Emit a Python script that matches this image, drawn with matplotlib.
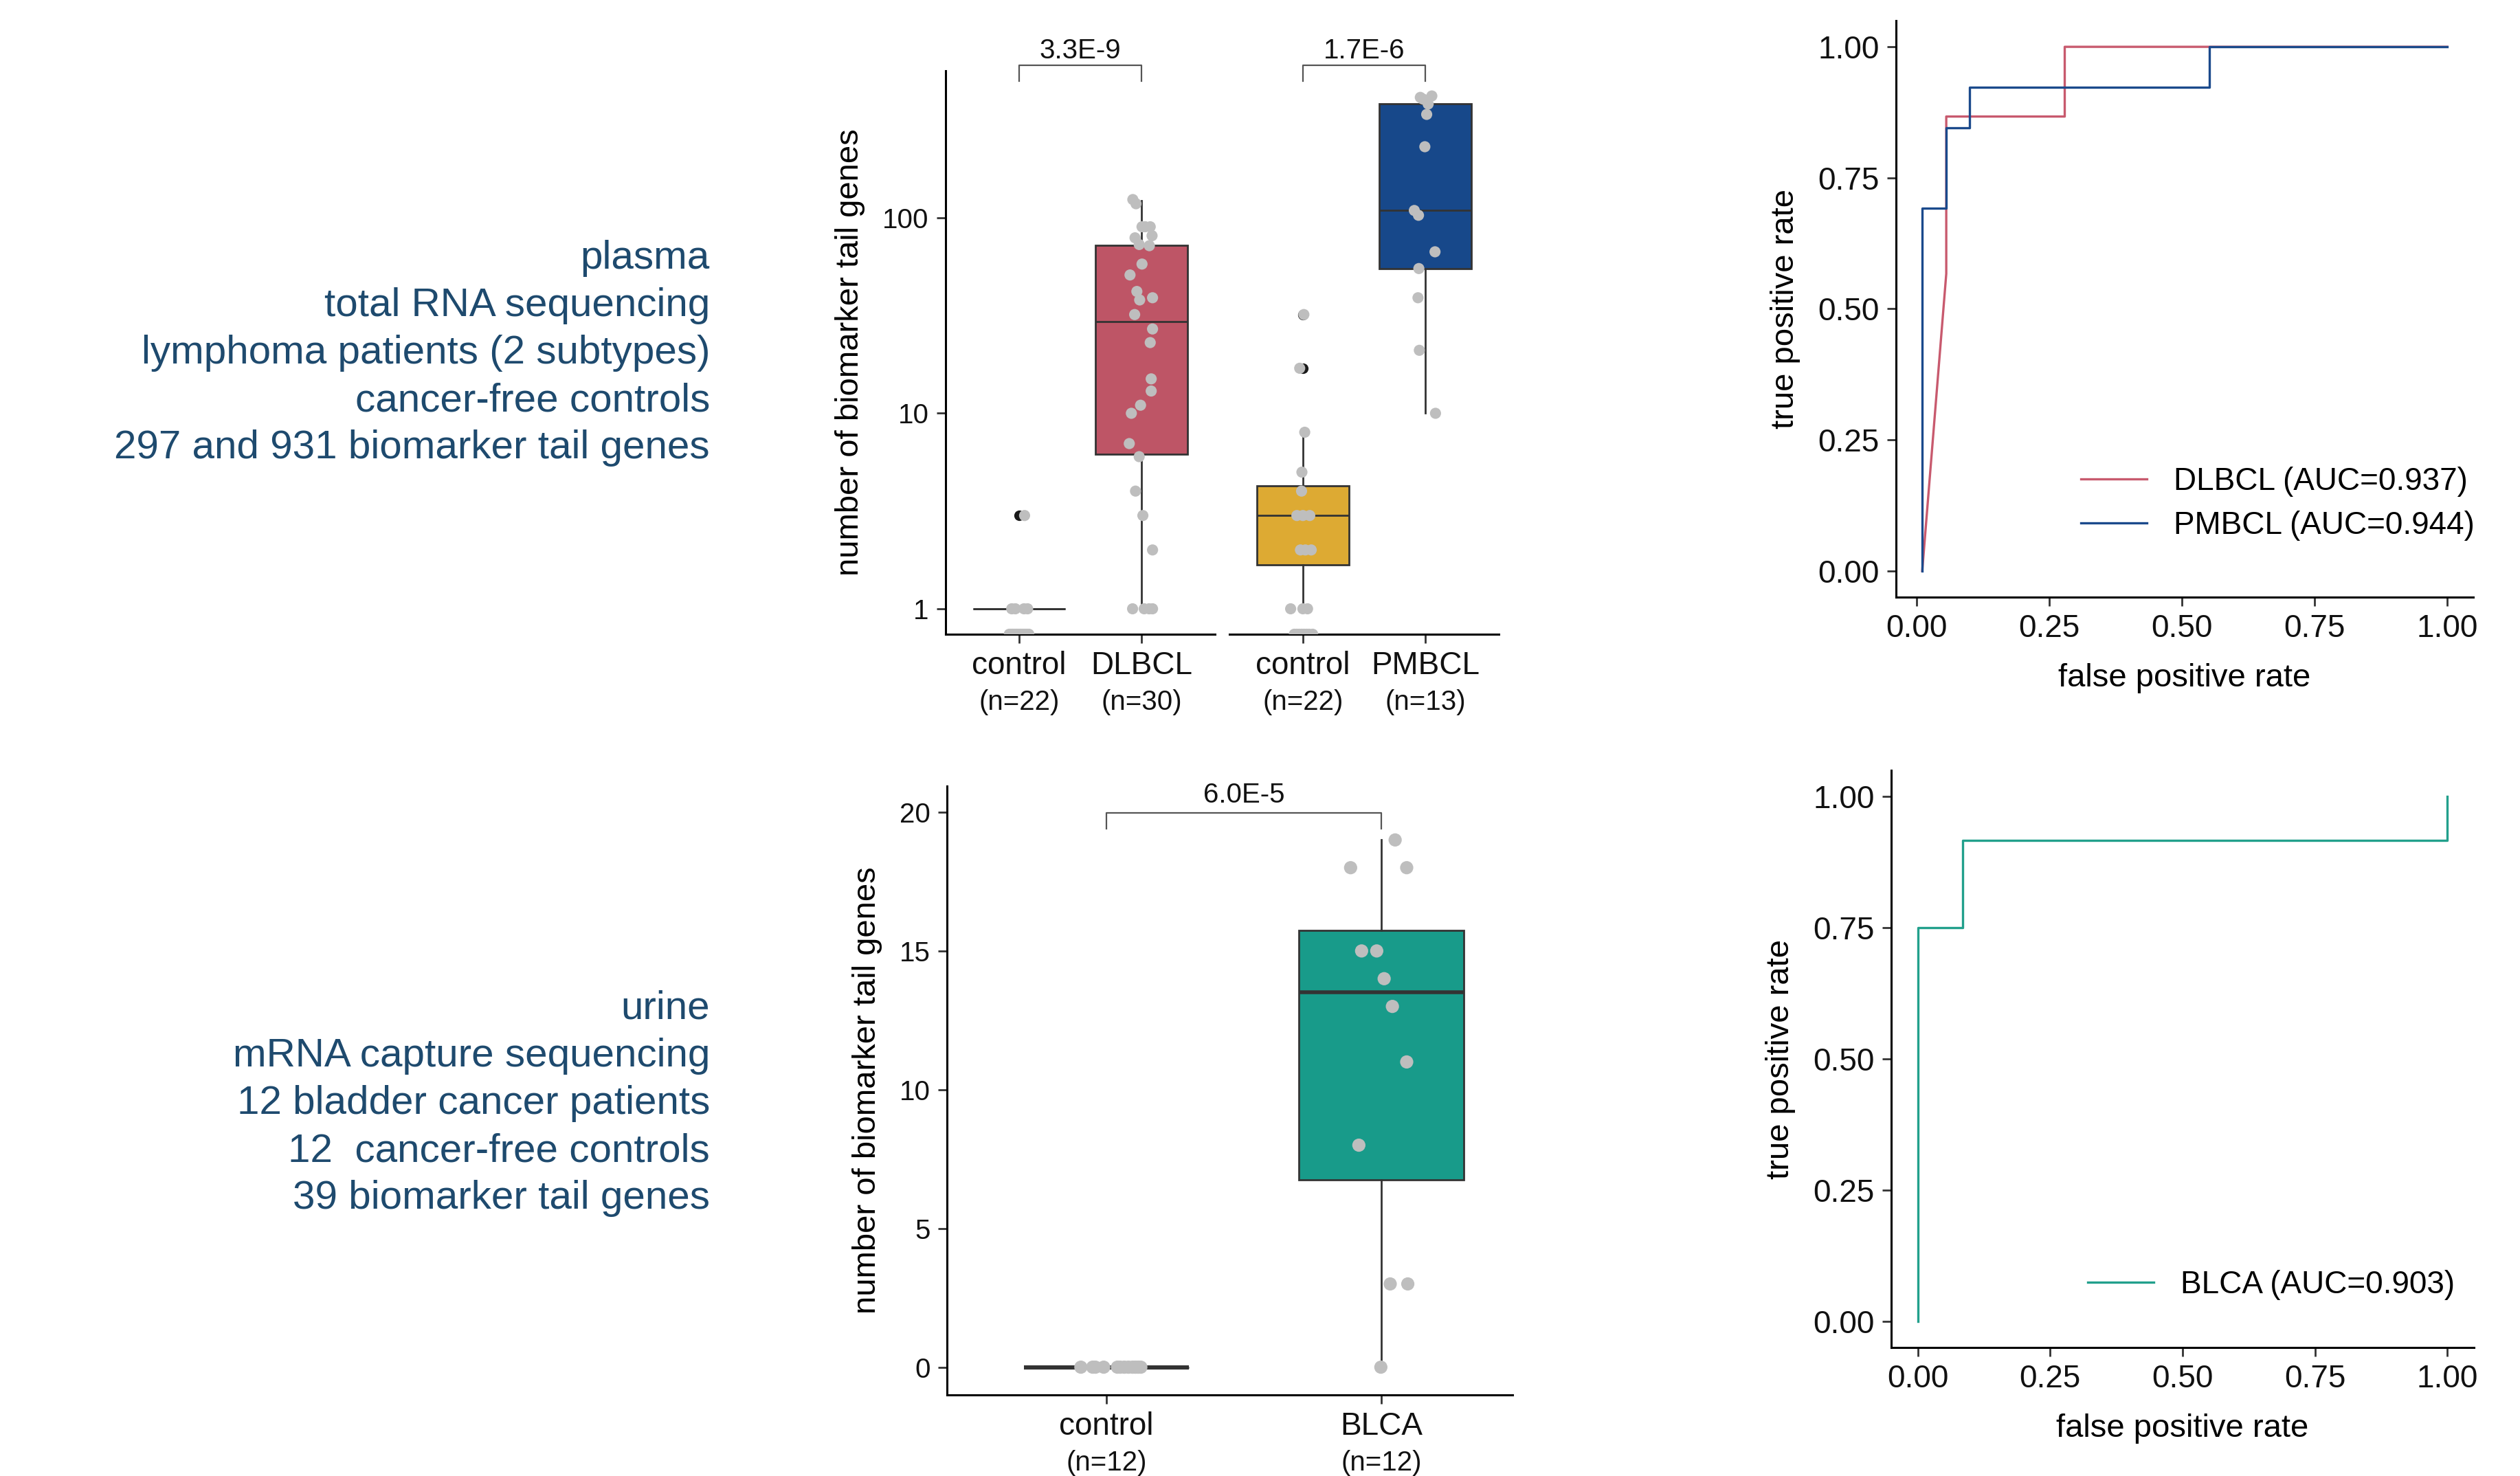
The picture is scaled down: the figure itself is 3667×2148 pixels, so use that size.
import numpy as np
import matplotlib
matplotlib.use("Agg")
import matplotlib.pyplot as plt

plt.rcParams['font.family'] = ['Liberation Sans', 'DejaVu Sans']

W, H, DPI = 3667, 2148, 200

# ---------------- data ----------------
# plasma: lymphoma vs controls (0 means no tail gene, drawn at the bottom edge on log axis)
ctrl_dlbcl_vals = [3, 1, 1, 1, 1, 0, 0, 0, 0, 0, 0, 0, 0, 0, 0, 0, 0, 0, 0, 0, 0, 0]
ctrl_dlbcl_jit = [0.045, -0.06, -0.03, 0.04, 0.07, -0.08, -0.07, -0.06, -0.05, -0.04, -0.03,
                  -0.02, -0.01, 0.0, 0.01, 0.02, 0.03, 0.04, 0.05, 0.06, 0.07, 0.08]
dlbcl_vals = [124, 118, 90, 90, 81, 79, 73, 72, 58, 51, 42, 39, 38, 32, 27, 23, 15, 13, 11, 10,
              7, 6, 4, 3, 2, 1, 1, 1, 1, 90]
dlbcl_jit = [-0.071, -0.045, 0.004, 0.071, 0.086, -0.053, -0.019, 0.064, 0.004, -0.094, -0.038,
             0.09, -0.015, -0.056, 0.09, 0.071, 0.079, 0.079, -0.008, -0.083, -0.1, -0.019, -0.049,
             0.011, 0.09, -0.073, 0.022, 0.062, 0.09, 0.03]
ctrl_pmbcl_vals = [32, 17, 8, 5, 4, 3, 3, 3, 2, 2, 2, 1, 1, 1, 0, 0, 0, 0, 0, 0, 0, 0]
ctrl_pmbcl_jit = [0.008, -0.026, 0.015, -0.008, -0.011, -0.049, 0.0, 0.056, -0.02, 0.02, 0.068,
                  -0.1, 0.0, 0.038, -0.07, -0.05, -0.03, -0.01, 0.01, 0.03, 0.05, 0.08]
pmbcl_vals = [420, 413, 405, 382, 338, 231, 109, 103, 67, 55, 39, 21, 10]
pmbcl_jit = [0.053, -0.041, -0.02, 0.023, 0.011, -0.004, -0.09, -0.056, 0.079, -0.053, -0.06,
             -0.049, 0.083]

# box statistics (q1, median, q3, whisker low, whisker high, outliers)
ctrl_dlbcl_box = dict(q1=1, med=1, q3=1, whislo=1, whishi=1, fliers=[3])
dlbcl_box = dict(q1=6.2, med=29.4, q3=72.5, whislo=1, whishi=122, fliers=[])
ctrl_pmbcl_box = dict(q1=1.68, med=3, q3=4.25, whislo=1, whishi=8, fliers=[17, 32])
pmbcl_box = dict(q1=55, med=109, q3=382, whislo=10, whishi=420, fliers=[])

plasma_labels_a = ["control", "DLBCL"]
plasma_n_a = ["(n=22)", "(n=30)"]
plasma_labels_b = ["control", "PMBCL"]
plasma_n_b = ["(n=22)", "(n=13)"]
plasma_pvals = ["3.3E-9", "1.7E-6"]

# urine: bladder cancer vs controls
ctrl_blca_vals = [0, 0, 0, 0, 0, 0, 0, 0, 0, 0, 0, 0]
ctrl_blca_jit = [-0.093, -0.05, -0.04, -0.01, 0.04, 0.05, 0.065, 0.08, 0.095, 0.105, 0.115, 0.125]
blca_vals = [19, 18, 18, 15, 15, 14, 13, 11, 8, 3, 3, 0]
blca_jit = [0.05, -0.112, 0.092, -0.072, -0.017, 0.01, 0.04, 0.092, -0.082, 0.032, 0.096, -0.002]
ctrl_blca_box = dict(q1=0, med=0, q3=0, whislo=0, whishi=0, fliers=[])
blca_box = dict(q1=6.76, med=13.5, q3=15.74, whislo=0, whishi=19, fliers=[])
urine_labels = ["control", "BLCA"]
urine_n = ["(n=12)", "(n=12)"]
urine_pval = "6.0E-5"

# ROC curves
dlbcl_fpr = [0.0104, 0.0557, 0.0557, 0.279, 0.279, 1.0]
dlbcl_tpr = [0.0, 0.567, 0.867, 0.867, 1.0, 1.0]
pmbcl_fpr = [0.0104, 0.0104, 0.0557, 0.0557, 0.0997, 0.0997, 0.551, 0.551, 1.0]
pmbcl_tpr = [0.0, 0.692, 0.692, 0.846, 0.846, 0.923, 0.923, 1.0, 1.0]
blca_fpr = [0.0, 0.0, 0.0848, 0.0848, 1.0, 1.0]
blca_tpr = [0.0, 0.75, 0.75, 0.917, 0.917, 1.0]
roc_ticks = [0.0, 0.25, 0.5, 0.75, 1.0]

plasma_text = ("plasma\ntotal RNA sequencing\nlymphoma patients (2 subtypes)\n"
               "cancer-free controls\n297 and 931 biomarker tail genes")
urine_text = ("urine\nmRNA capture sequencing\n12 bladder cancer patients\n"
              "12  cancer-free controls\n39 biomarker tail genes")

# ---------------- styles ----------------
C_DLBCL = "#BE5566"
C_PMBCL = "#17488A"
C_CTRL = "#DDAA33"
C_BLCA = "#189B8A"
C_ROC_RED = "#C85A6E"
C_ROC_BLUE = "#1B4A8C"
C_ROC_TEAL = "#22A08C"
EDGE = "#333333"
PT = "#BEBEBE"
TXT = "#1E4A6E"

fig = plt.figure(figsize=(W / DPI, H / DPI), dpi=DPI)


def add_ax(x0, y0, x1, y1):
    return fig.add_axes([x0 / W, 1 - y1 / H, (x1 - x0) / W, (y1 - y0) / H])


def style(ax, left=True, tick_size=14.5):
    for s in ["top", "right"]:
        ax.spines[s].set_visible(False)
    ax.spines["bottom"].set_linewidth(1.1)
    ax.spines["left"].set_linewidth(1.1)
    ax.spines["left"].set_visible(left)
    ax.tick_params(length=4.7, width=1.0, color=EDGE, labelsize=tick_size, labelcolor="#111111", pad=4)
    if not left:
        ax.tick_params(axis="y", left=False, labelleft=False)


def draw_group(ax, pos, vals, jit, st, color, width, medlw, ptsize, ylo=None):
    ax.bxp([st], positions=[pos], widths=width, patch_artist=True, showcaps=False,
           boxprops=dict(facecolor=color, edgecolor=EDGE, linewidth=1.0),
           whiskerprops=dict(color=EDGE, linewidth=1.0),
           medianprops=dict(color=EDGE, linewidth=medlw, solid_capstyle="butt"),
           flierprops=dict(marker="o", markerfacecolor="#1a1a1a", markeredgecolor="none",
                           markersize=5.5),
           manage_ticks=False, zorder=2)
    v = np.array(vals, dtype=float)
    if ylo is not None:
        v = np.where(v > 0, v, ylo)
    ax.scatter(pos + np.array(jit), v, s=ptsize, color=PT, edgecolors="none", zorder=3)


def cat_labels(ax, names, ns, size1=16.5, size2=14.5):
    ax.set_xticks([1, 2])
    ax.set_xticklabels(names, fontsize=size1)
    for i, n in enumerate(ns):
        ax.annotate(n, xy=(i + 1, 0), xycoords=("data", "axes fraction"),
                    xytext=(0, -39.5), textcoords="offset points",
                    ha="center", va="baseline", fontsize=size2, color="#111111",
                    annotation_clip=False)


def bracket(ax, y_lo, y_hi, y_txt, label):
    ax.plot([1, 1, 2, 2], [y_lo, y_hi, y_hi, y_lo], color="#555555", lw=0.8, clip_on=False)
    ax.text(1.5, y_txt, label, ha="center", va="bottom", fontsize=14.5, color="#111111")


# ---------------- plasma boxplots (log scale, two facets) ----------------
YLO_LOG, YHI_LOG = 0.741, 565
ax_a = add_ax(1376, 103, 1768, 923)
ax_b = add_ax(1789, 103, 2181, 923)
for ax in (ax_a, ax_b):
    ax.set_yscale("log")
    ax.set_ylim(YLO_LOG, YHI_LOG)
    ax.set_xlim(0.4, 2.6)
    ax.set_yticks([1, 10, 100])
    ax.set_yticklabels(["1", "10", "100"])
    ax.minorticks_off()
style(ax_a, left=True)
style(ax_b, left=False)

draw_group(ax_a, 1, ctrl_dlbcl_vals, ctrl_dlbcl_jit, ctrl_dlbcl_box, C_CTRL, 0.75, 1.0, 34, YLO_LOG)
draw_group(ax_a, 2, dlbcl_vals, dlbcl_jit, dlbcl_box, C_DLBCL, 0.75, 1.0, 34, YLO_LOG)
draw_group(ax_b, 1, ctrl_pmbcl_vals, ctrl_pmbcl_jit, ctrl_pmbcl_box, C_CTRL, 0.75, 1.0, 34, YLO_LOG)
draw_group(ax_b, 2, pmbcl_vals, pmbcl_jit, pmbcl_box, C_PMBCL, 0.75, 1.0, 34, YLO_LOG)

cat_labels(ax_a, plasma_labels_a, plasma_n_a)
cat_labels(ax_b, plasma_labels_b, plasma_n_b)
ax_a.set_ylabel("number of biomarker tail genes", fontsize=17, labelpad=9)
bracket(ax_a, 499, 603, 615, plasma_pvals[0])
bracket(ax_b, 499, 603, 615, plasma_pvals[1])

# ---------------- urine boxplot ----------------
ax_u = add_ax(1378, 1144, 2201, 2030)
ax_u.set_ylim(-1.0, 20.94)
ax_u.set_xlim(0.42, 2.477)
ax_u.set_yticks([0, 5, 10, 15, 20])
style(ax_u, left=True)
draw_group(ax_u, 1, ctrl_blca_vals, ctrl_blca_jit, ctrl_blca_box, C_CTRL, 0.6, 2.2, 48)
draw_group(ax_u, 2, blca_vals, blca_jit, blca_box, C_BLCA, 0.6, 2.0, 48)
cat_labels(ax_u, urine_labels, urine_n)
ax_u.set_ylabel("number of biomarker tail genes", fontsize=17, labelpad=9)
bracket(ax_u, 19.4, 19.97, 20.15, urine_pval)

# ---------------- ROC curves ----------------
ax_r1 = add_ax(2759, 30, 3599, 869)
ax_r2 = add_ax(2752, 1121, 3600, 1961)
ax_r1.plot(dlbcl_fpr, dlbcl_tpr, color=C_ROC_RED, lw=1.2, label="DLBCL (AUC=0.937)")
ax_r1.plot(pmbcl_fpr, pmbcl_tpr, color=C_ROC_BLUE, lw=1.2, label="PMBCL (AUC=0.944)")
ax_r2.plot(blca_fpr, blca_tpr, color=C_ROC_TEAL, lw=1.2, label="BLCA (AUC=0.903)")
ax_r1.set_xlim(-0.039, 1.049)
ax_r2.set_xlim(-0.05, 1.05)
for ax in (ax_r1, ax_r2):
    ax.set_ylim(-0.05, 1.05)
    ax.set_xticks(roc_ticks)
    ax.set_yticks(roc_ticks)
    ax.set_xticklabels(["%.2f" % t for t in roc_ticks])
    ax.set_yticklabels(["%.2f" % t for t in roc_ticks])
    style(ax, tick_size=16.5)
    ax.set_xlabel("false positive rate", fontsize=17, labelpad=10)
    ax.set_ylabel("true positive rate", fontsize=17, labelpad=9)
ax_r1.legend(loc="lower left", bbox_to_anchor=(0.293, 0.07), frameon=False, fontsize=16.5,
             handlelength=2.1, handletextpad=0.85, labelspacing=0.45, borderpad=0)
ax_r2.legend(loc="lower left", bbox_to_anchor=(0.31, 0.055), frameon=False, fontsize=16.5,
             handlelength=2.1, handletextpad=0.85, borderpad=0)

# ---------------- description text ----------------
fig.text(1033 / W, 1 - 514 / H, plasma_text, ha="right", va="center", multialignment="right",
         fontsize=21, color=TXT, linespacing=1.36)
fig.text(1033 / W, 1 - 1606 / H, urine_text, ha="right", va="center", multialignment="right",
         fontsize=21, color=TXT, linespacing=1.36)

fig.savefig("out.png", dpi=DPI)
